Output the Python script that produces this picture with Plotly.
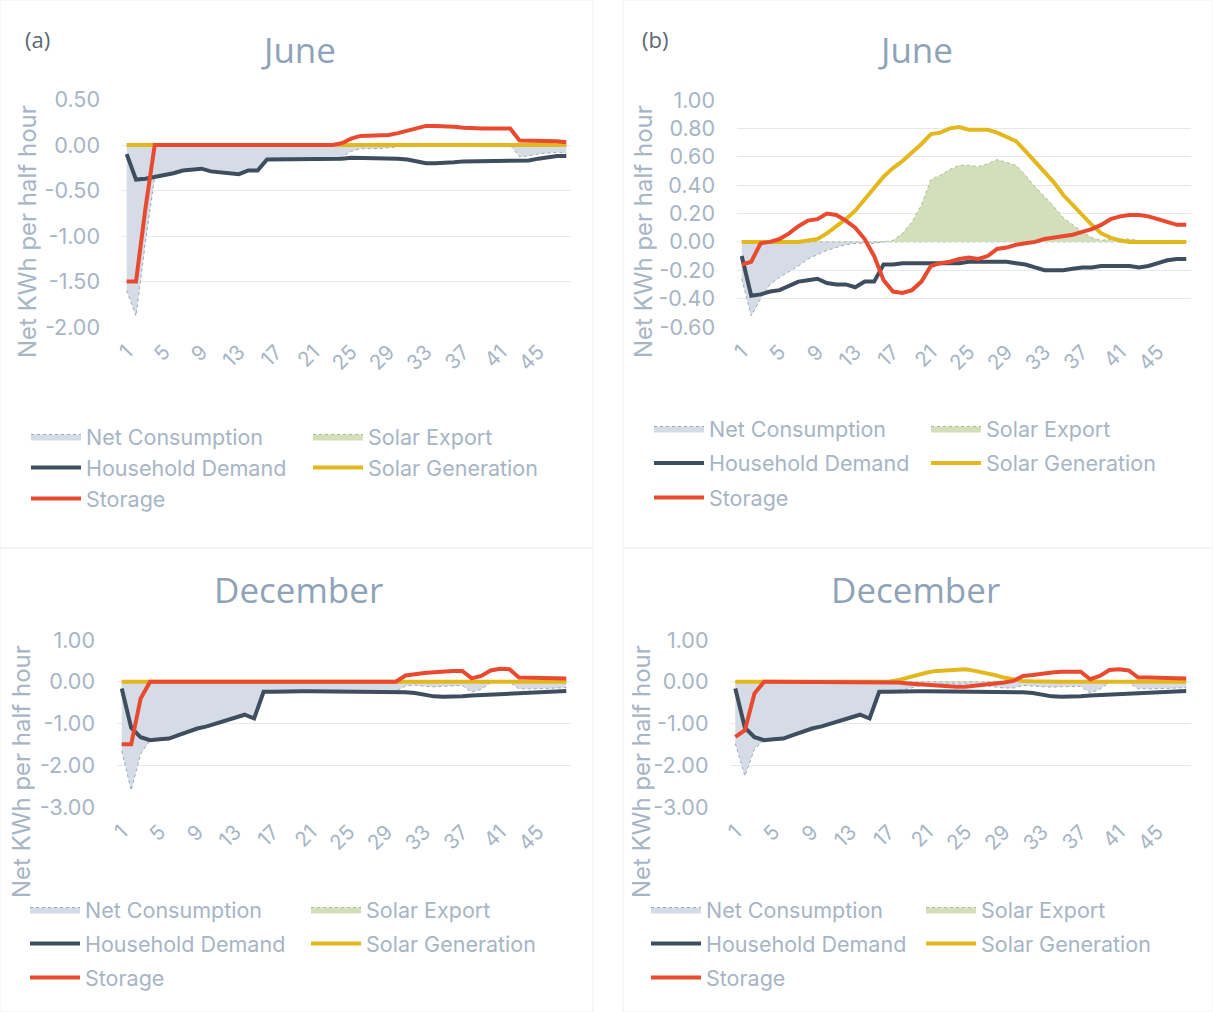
import plotly.graph_objects as go

W, H = 1213, 1012

# ---------------------------------------------------------------- data
half_hours = list(range(1, 49))
x_tick_vals = [1, 5, 9, 13, 17, 21, 25, 29, 33, 37, 41, 45]
x_tick_text = ["1", "5", "9", "13", "17", "21", "25", "29", "33", "37", "41", "45"]

y_ticks_june_a = [-2.0, -1.5, -1.0, -0.5, 0.0, 0.5]
y_text_june_a = ["-2.00", "-1.50", "-1.00", "-0.50", "0.00", "0.50"]
y_ticks_june_b = [-0.6, -0.4, -0.2, 0.0, 0.2, 0.4, 0.6, 0.8, 1.0]
y_text_june_b = ["-0.60", "-0.40", "-0.20", "0.00", "0.20", "0.40", "0.60", "0.80", "1.00"]
y_ticks_dec = [-3.0, -2.0, -1.0, 0.0, 1.0]
y_text_dec = ["-3.00", "-2.00", "-1.00", "0.00", "1.00"]

june_demand = [-0.10, -0.38, -0.37, -0.35, -0.34, -0.31, -0.28, -0.27, -0.26, -0.29,
               -0.30, -0.30, -0.32, -0.28, -0.28, -0.16, -0.16, -0.15, -0.15, -0.15,
               -0.15, -0.15, -0.15, -0.15, -0.14, -0.14, -0.14, -0.14, -0.14, -0.15,
               -0.16, -0.18, -0.20, -0.20, -0.20, -0.19, -0.18, -0.18, -0.17, -0.17,
               -0.17, -0.17, -0.18, -0.17, -0.15, -0.13, -0.12, -0.12]

june_a_storage = [-1.50, -1.50, -0.70, 0.00, 0.00, 0.00, 0.00, 0.00, 0.00, 0.00,
                  0.00, 0.00, 0.00, 0.00, 0.00, 0.00, 0.00, 0.00, 0.00, 0.00,
                  0.00, 0.00, 0.00, 0.02, 0.07, 0.10, 0.10, 0.10, 0.11, 0.13,
                  0.16, 0.19, 0.21, 0.21, 0.21, 0.20, 0.19, 0.18, 0.18, 0.18,
                  0.18, 0.18, 0.05, 0.05, 0.05, 0.04, 0.04, 0.03]
june_a_solar = [0.00, 0.00, 0.00, 0.00, 0.00, 0.00, 0.00, 0.00, 0.00, 0.00,
                0.00, 0.00, 0.00, 0.00, 0.00, 0.00, 0.00, 0.00, 0.00, 0.00,
                0.00, 0.00, 0.00, 0.00, 0.00, 0.00, 0.00, 0.00, 0.00, 0.00,
                0.00, 0.00, 0.00, 0.00, 0.00, 0.00, 0.00, 0.00, 0.00, 0.00,
                0.00, 0.00, 0.00, 0.00, 0.00, 0.00, 0.00, 0.00]
june_a_net = [-1.60, -1.88, -1.07, -0.35, -0.34, -0.31, -0.28, -0.27, -0.26, -0.29,
              -0.30, -0.30, -0.32, -0.28, -0.28, -0.16, -0.16, -0.15, -0.15, -0.15,
              -0.15, -0.15, -0.15, -0.13, -0.07, -0.04, -0.04, -0.04, -0.03, -0.02,
              0.00, 0.00, 0.00, 0.00, 0.00, 0.00, 0.00, 0.00, 0.00, 0.00,
              0.00, 0.00, -0.13, -0.12, -0.10, -0.09, -0.08, -0.09]
june_a_export = [0.00, 0.00, 0.00, 0.00, 0.00, 0.00, 0.00, 0.00, 0.00, 0.00,
                 0.00, 0.00, 0.00, 0.00, 0.00, 0.00, 0.00, 0.00, 0.00, 0.00,
                 0.00, 0.00, 0.00, 0.00, 0.00, 0.00, 0.00, 0.00, 0.00, 0.00,
                 0.00, 0.00, 0.00, 0.00, 0.00, 0.00, 0.00, 0.00, 0.00, 0.00,
                 0.00, 0.00, 0.00, 0.00, 0.00, 0.00, 0.00, 0.00]

june_b_storage = [-0.16, -0.14, -0.01, 0.00, 0.02, 0.06, 0.11, 0.15, 0.16, 0.20,
                  0.19, 0.15, 0.10, 0.02, -0.10, -0.27, -0.35, -0.36, -0.34, -0.28,
                  -0.17, -0.15, -0.14, -0.12, -0.11, -0.12, -0.10, -0.05, -0.04, -0.02,
                  -0.01, 0.00, 0.02, 0.03, 0.04, 0.05, 0.07, 0.09, 0.12, 0.16,
                  0.18, 0.19, 0.19, 0.18, 0.16, 0.14, 0.12, 0.12]
june_b_solar = [0.00, 0.00, 0.00, 0.00, 0.00, 0.00, 0.00, 0.01, 0.02, 0.06,
                0.11, 0.16, 0.22, 0.30, 0.38, 0.46, 0.52, 0.57, 0.63, 0.69,
                0.76, 0.77, 0.80, 0.81, 0.79, 0.79, 0.79, 0.77, 0.74, 0.71,
                0.64, 0.57, 0.50, 0.42, 0.33, 0.26, 0.18, 0.12, 0.06, 0.03,
                0.01, 0.00, 0.00, 0.00, 0.00, 0.00, 0.00, 0.00]
june_b_net = [-0.26, -0.52, -0.40, -0.30, -0.25, -0.21, -0.17, -0.12, -0.09, -0.06,
              -0.04, -0.02, -0.01, -0.01, -0.01, 0.00, 0.00, 0.00, 0.00, 0.00,
              0.00, 0.00, 0.00, 0.00, 0.00, 0.00, 0.00, 0.00, 0.00, 0.00,
              0.00, 0.00, 0.00, 0.00, 0.00, 0.00, 0.00, 0.00, 0.00, 0.00,
              0.00, 0.00, 0.00, 0.00, 0.00, 0.00, 0.00, 0.00]
june_b_export = [0.00, 0.00, 0.00, 0.00, 0.00, 0.00, 0.00, 0.00, 0.00, 0.00,
                 0.00, 0.00, 0.00, 0.00, 0.00, 0.00, 0.01, 0.06, 0.14, 0.26,
                 0.44, 0.47, 0.51, 0.54, 0.54, 0.53, 0.55, 0.58, 0.56, 0.54,
                 0.47, 0.39, 0.32, 0.25, 0.17, 0.12, 0.07, 0.03, 0.01, 0.02,
                 0.02, 0.02, 0.01, 0.01, 0.01, 0.01, 0.00, 0.00]

dec_demand = [-0.16, -1.10, -1.33, -1.40, -1.38, -1.36, -1.28, -1.20, -1.12, -1.07,
              -1.00, -0.92, -0.84, -0.79, -0.88, -0.24, -0.24, -0.23, -0.23, -0.23,
              -0.23, -0.23, -0.23, -0.23, -0.23, -0.23, -0.23, -0.23, -0.23, -0.23,
              -0.25, -0.27, -0.32, -0.35, -0.36, -0.36, -0.35, -0.33, -0.32, -0.30,
              -0.29, -0.28, -0.27, -0.27, -0.27, -0.26, -0.24, -0.22]

dec_a_storage = [-1.50, -1.50, -0.40, 0.00, 0.00, 0.00, 0.00, 0.00, 0.00, 0.00,
                 0.00, 0.00, 0.00, 0.00, 0.00, 0.00, 0.00, 0.00, 0.00, 0.00,
                 0.00, 0.00, 0.00, 0.00, 0.00, 0.00, 0.00, 0.00, 0.00, 0.00,
                 0.15, 0.19, 0.21, 0.23, 0.25, 0.26, 0.26, 0.08, 0.14, 0.27,
                 0.31, 0.30, 0.10, 0.10, 0.10, 0.10, 0.09, 0.08]
dec_a_solar = [0.00, 0.00, 0.00, 0.00, 0.00, 0.00, 0.00, 0.00, 0.00, 0.00,
               0.00, 0.00, 0.00, 0.00, 0.00, 0.00, 0.00, 0.00, 0.00, 0.00,
               0.00, 0.00, 0.00, 0.00, 0.00, 0.00, 0.00, 0.00, 0.00, 0.00,
               0.00, 0.00, 0.00, 0.00, 0.00, 0.00, 0.00, 0.00, 0.00, 0.00,
               0.00, 0.00, 0.00, 0.00, 0.00, 0.00, 0.00, 0.00]
dec_a_net = [-1.66, -2.60, -1.73, -1.40, -1.38, -1.36, -1.28, -1.20, -1.12, -1.07,
             -1.00, -0.92, -0.84, -0.79, -0.88, -0.24, -0.24, -0.23, -0.23, -0.23,
             -0.23, -0.23, -0.23, -0.23, -0.23, -0.23, -0.23, -0.23, -0.23, -0.23,
             -0.10, -0.08, -0.11, -0.12, -0.11, -0.10, -0.09, -0.25, -0.18, -0.03,
             0.00, -0.01, -0.17, -0.17, -0.17, -0.16, -0.15, -0.14]
dec_a_export = [0.00, 0.00, 0.00, 0.00, 0.00, 0.00, 0.00, 0.00, 0.00, 0.00,
                0.00, 0.00, 0.00, 0.00, 0.00, 0.00, 0.00, 0.00, 0.00, 0.00,
                0.00, 0.00, 0.00, 0.00, 0.00, 0.00, 0.00, 0.00, 0.00, 0.00,
                0.00, 0.00, 0.00, 0.00, 0.00, 0.00, 0.00, 0.00, 0.00, 0.00,
                0.00, 0.00, 0.00, 0.00, 0.00, 0.00, 0.00, 0.00]

dec_b_storage = [-1.32, -1.16, -0.28, 0.00, 0.00, 0.00, 0.00, 0.00, 0.00, 0.00,
                 0.00, 0.00, 0.00, 0.00, 0.00, 0.00, 0.00, -0.02, -0.04, -0.06,
                 -0.08, -0.09, -0.10, -0.12, -0.12, -0.10, -0.08, -0.05, -0.02, 0.02,
                 0.14, 0.16, 0.20, 0.22, 0.24, 0.25, 0.24, 0.06, 0.14, 0.28,
                 0.30, 0.27, 0.10, 0.10, 0.10, 0.10, 0.09, 0.08]
dec_b_solar = [0.00, 0.00, 0.00, 0.00, 0.00, 0.00, 0.00, 0.00, 0.00, 0.00,
               0.00, 0.00, 0.00, 0.00, 0.00, 0.00, 0.00, 0.04, 0.10, 0.18,
               0.22, 0.26, 0.28, 0.30, 0.30, 0.26, 0.22, 0.16, 0.10, 0.06,
               0.02, 0.01, 0.00, 0.00, 0.00, 0.00, 0.00, 0.00, 0.00, 0.00,
               0.00, 0.00, 0.00, 0.00, 0.00, 0.00, 0.00, 0.00]
dec_b_net = [-1.48, -2.26, -1.61, -1.40, -1.38, -1.36, -1.28, -1.20, -1.12, -1.07,
             -1.00, -0.92, -0.84, -0.79, -0.88, -0.24, -0.24, -0.21, -0.17, -0.11,
             -0.09, -0.06, -0.05, -0.05, -0.05, -0.07, -0.09, -0.12, -0.15, -0.15,
             -0.09, -0.10, -0.12, -0.13, -0.12, -0.11, -0.11, -0.27, -0.18, -0.02,
             0.00, -0.01, -0.17, -0.17, -0.17, -0.16, -0.15, -0.14]
dec_b_export = [0.00, 0.00, 0.00, 0.00, 0.00, 0.00, 0.00, 0.00, 0.00, 0.00,
                0.00, 0.00, 0.00, 0.00, 0.00, 0.00, 0.00, 0.00, 0.00, 0.00,
                0.00, 0.00, 0.00, 0.00, 0.00, 0.00, 0.00, 0.00, 0.00, 0.00,
                0.00, 0.00, 0.00, 0.00, 0.00, 0.00, 0.00, 0.00, 0.00, 0.00,
                0.00, 0.00, 0.00, 0.00, 0.00, 0.00, 0.00, 0.00]

# ---------------------------------------------------------------- styling
TXT = "#a7b5c5"
GRID = "#e5e9ee"
C_DEMAND = "#3e4e5e"
C_STORAGE = "#e8492f"
C_SOLAR = "#e3b81f"
C_NET_FILL = "#d5dce5"
C_NET_LINE = "#9aa9b9"
C_EXP_FILL = "#d3dfba"
C_EXP_LINE = "#a8bf88"
FONT = "Inter"
TITLE_FONT = "Open Sans"
LEG_SIZE = 21.5


def fx(p):
    return p / W


def fy(p):
    return 1 - p / H


# panel boxes in pixels: left, right, top, bottom
panels = [
    dict(key="a", title="June", tag="(a)", box=(122, 571, 99.5, 327), yr=[-2.0, 0.5],
         yt=(y_ticks_june_a, y_text_june_a),
         series=(june_a_net, june_a_export, june_demand, june_a_solar, june_a_storage),
         leg_x=88, col_step=282, rows=(437, 468, 499), title_xy=(298, 49),
         tag_xy=(37, 39), ytitle_xy=(27, 232)),
    dict(key="b", title="June", tag="(b)", box=(737, 1191, 100, 327), yr=[-0.6, 1.0],
         yt=(y_ticks_june_b, y_text_june_b),
         series=(june_b_net, june_b_export, june_demand, june_b_solar, june_b_storage),
         leg_x=711, col_step=277, rows=(429, 463.5, 498), title_xy=(916, 49),
         tag_xy=(655, 39), ytitle_xy=(643, 232)),
    dict(key="c", title="December", tag=None, box=(117, 571, 640, 807), yr=[-3.0, 1.0],
         yt=(y_ticks_dec, y_text_dec),
         series=(dec_a_net, dec_a_export, dec_demand, dec_a_solar, dec_a_storage),
         leg_x=87, col_step=281, rows=(910, 944, 978), title_xy=(298, 589),
         tag_xy=None, ytitle_xy=(21, 772)),
    dict(key="d", title="December", tag=None, box=(730.5, 1191, 640, 807), yr=[-3.0, 1.0],
         yt=(y_ticks_dec, y_text_dec),
         series=(dec_b_net, dec_b_export, dec_demand, dec_b_solar, dec_b_storage),
         leg_x=708, col_step=275, rows=(910, 944, 978), title_xy=(916, 589),
         tag_xy=None, ytitle_xy=(641, 772)),
]

fig = go.Figure()
annotations = []
layout_axes = {}
legends = {}

for i, p in enumerate(panels):
    n = i + 1
    xa = "x" if n == 1 else f"x{n}"
    ya = "y" if n == 1 else f"y{n}"
    # one horizontal legend per legend row of the panel
    row_names = ["legend" if 3 * i + r == 1 else f"legend{3 * i + r}" for r in (1, 2, 3)]
    net, export, demand, solar, storage = p["series"]

    fig.add_trace(go.Scatter(x=half_hours, y=net, name="Net Consumption", mode="lines",
                             fill="tozeroy", fillcolor=C_NET_FILL,
                             line=dict(color=C_NET_LINE, width=1, dash="dot"),
                             xaxis=xa, yaxis=ya, legend=row_names[0]))
    fig.add_trace(go.Scatter(x=half_hours, y=export, name="Solar Export", mode="lines",
                             fill="tozeroy", fillcolor=C_EXP_FILL,
                             line=dict(color=C_EXP_LINE, width=1, dash="dot"),
                             xaxis=xa, yaxis=ya, legend=row_names[0]))
    fig.add_trace(go.Scatter(x=half_hours, y=demand, name="Household Demand", mode="lines",
                             line=dict(color=C_DEMAND, width=4),
                             xaxis=xa, yaxis=ya, legend=row_names[1]))
    fig.add_trace(go.Scatter(x=half_hours, y=solar, name="Solar Generation", mode="lines",
                             line=dict(color=C_SOLAR, width=4),
                             xaxis=xa, yaxis=ya, legend=row_names[1]))
    fig.add_trace(go.Scatter(x=half_hours, y=storage, name="Storage", mode="lines",
                             line=dict(color=C_STORAGE, width=4),
                             xaxis=xa, yaxis=ya, legend=row_names[2]))

    l, r, t, b = p["box"]
    xkey = "xaxis" if n == 1 else f"xaxis{n}"
    ykey = "yaxis" if n == 1 else f"yaxis{n}"
    layout_axes[xkey] = dict(domain=[fx(l), fx(r)], range=[0.5, 48.5], anchor=ya,
                             tickmode="array", tickvals=x_tick_vals, ticktext=x_tick_text,
                             tickangle=-45, showgrid=False, zeroline=False, showline=False,
                             ticks="", ticklabelstandoff=8,
                             tickfont=dict(family=FONT, size=20.5, color=TXT))
    layout_axes[ykey] = dict(domain=[fy(b), fy(t)], range=p["yr"], anchor=xa,
                             tickmode="array", tickvals=p["yt"][0], ticktext=p["yt"][1],
                             showgrid=True, gridcolor=GRID, gridwidth=1, zeroline=False,
                             showline=False, ticks="", ticklabelstandoff=21,
                             tickfont=dict(family=FONT, size=21.5, color=TXT))

    for name, ry in zip(row_names, p["rows"]):
        legends[name] = dict(x=fx(p["leg_x"] - 62), y=fy(ry - 21), xanchor="left",
                             yanchor="top", orientation="h", itemwidth=50,
                             entrywidth=p["col_step"] - 65, entrywidthmode="pixels",
                             bgcolor="rgba(0,0,0,0)", borderwidth=0,
                             font=dict(family=FONT, size=LEG_SIZE, color=TXT))

    tx, ty = p["title_xy"]
    annotations.append(dict(text=p["title"], x=fx(tx), y=fy(ty), xref="paper", yref="paper",
                            showarrow=False, xanchor="center", yanchor="middle",
                            font=dict(family=TITLE_FONT, size=35, color="#8fa3b8")))
    if p["tag"]:
        gx, gy = p["tag_xy"]
        annotations.append(dict(text=p["tag"], x=fx(gx), y=fy(gy), xref="paper",
                                yref="paper", showarrow=False, xanchor="center",
                                yanchor="middle",
                                font=dict(family=TITLE_FONT, size=22, color="#5d6873")))
    ax_, ay_ = p["ytitle_xy"]
    annotations.append(dict(text="Net KWh per half hour", x=fx(ax_), y=fy(ay_),
                            xref="paper", yref="paper", showarrow=False, textangle=-90,
                            xanchor="center", yanchor="middle",
                            font=dict(family=FONT, size=24, color=TXT)))

# faint frames around the four chart areas
frames = [(0, 593, 0, 548), (623, 1213, 0, 548), (0, 593, 548, 1012), (623, 1213, 548, 1012)]
shapes = [dict(type="rect", xref="paper", yref="paper", x0=fx(a), x1=fx(b_),
               y0=fy(d_), y1=fy(c_), line=dict(color="#f1f1f1", width=1),
               fillcolor="rgba(0,0,0,0)", layer="below")
          for a, b_, c_, d_ in frames]

fig.update_layout(width=W, height=H,
                  margin=dict(l=0, r=0, t=0, b=0, autoexpand=False),
                  paper_bgcolor="white", plot_bgcolor="white", showlegend=True,
                  annotations=annotations, shapes=shapes, **layout_axes, **legends)

fig.write_html("out.html")
